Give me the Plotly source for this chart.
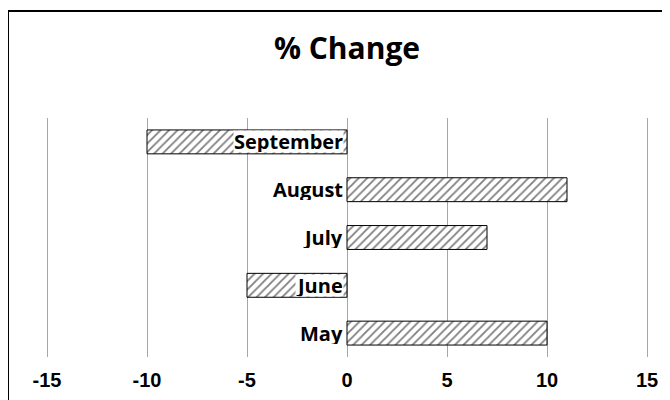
import plotly.graph_objects as go

months = ["May", "June", "July", "August", "September"]
pct_change = [10, -5, 7, 11, -10]
x_ticks = [-15, -10, -5, 0, 5, 10, 15]
chart_title = "% Change"

# page body has an 8px offset; layout numbers below are in figure coordinates
OFF = 8
FW, FH = 670, 400
L, R, T, B = 29, 21, 110, 51
W, H = FW - L - R, FH - T - B
def px_x(p): return (p - OFF - L) / W
def px_y(p): return (FH - B - (p - OFF)) / H

fig = go.Figure()
fig.add_trace(go.Bar(
    y=months, x=pct_change, orientation="h", width=0.5,
    marker=dict(
        color="white",
        line=dict(color="black", width=1),
        pattern=dict(shape="/", fgcolor="black", bgcolor="white", size=6, solidity=0.3),
    ),
    showlegend=False, hoverinfo="skip",
))

for m in months:
    fig.add_annotation(
        x=0, y=m, xref="x", yref="y", text=f"<b>{m}</b>", showarrow=False,
        xanchor="right", yanchor="middle", xshift=-3,
        font=dict(family="Open Sans", size=20, color="black"),
        bgcolor="white", borderpad=0, height=21,
    )

fig.add_shape(type="rect", xref="paper", yref="paper",
              x0=px_x(8), x1=px_x(700), y0=px_y(11), y1=px_y(430),
              line=dict(color="black", width=2), fillcolor="rgba(0,0,0,0)", layer="above")

fig.update_layout(
    width=FW, height=FH, paper_bgcolor="white", plot_bgcolor="white",
    margin=dict(l=L, r=R, t=T, b=B),
    title=dict(text=f"<b>{chart_title}</b>", x=0.5, xref="paper", y=1 - (48 - OFF) / FH,
               yanchor="middle", xanchor="center",
               font=dict(family="Open Sans", size=30, color="black")),
    xaxis=dict(range=[-15.5, 15.5], tickvals=x_ticks, ticktext=[str(v) for v in x_ticks],
               showgrid=True, gridcolor="#a6a6a6", gridwidth=1, zeroline=False,
               showline=False, ticks="", ticklabelstandoff=9,
               tickfont=dict(family="Liberation Sans", size=20, color="black", weight="bold")),
    yaxis=dict(categoryorder="array", categoryarray=months, range=[-0.5, 4.5],
               showticklabels=False, showgrid=False, zeroline=False, showline=False, ticks=""),
)

fig.write_html("out.html")
